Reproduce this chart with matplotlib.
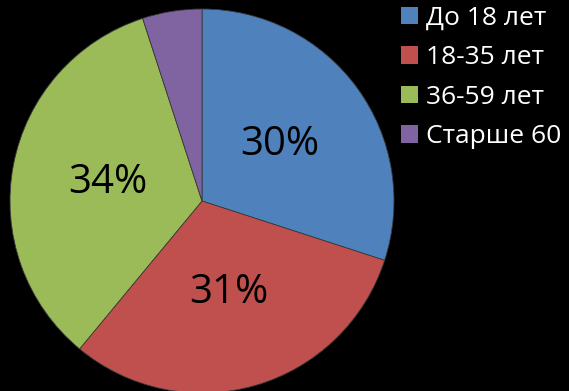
import matplotlib.pyplot as plt
from matplotlib.patches import Patch

labels = ["До 18 лет", "18-35 лет", "36-59 лет", "Старше 60"]
shares = [30, 31, 34, 5]
pct_labels = ["30%", "31%", "34%", ""]
colors = ["#4F81BD", "#C0504D", "#9BBB59", "#8064A2"]

plt.rcParams["font.family"] = ["Open Sans", "DejaVu Sans"]

fig = plt.figure(figsize=(5.69, 3.91), dpi=100, facecolor="black")
ax = fig.add_axes([10 / 569, -2 / 391, 384 / 569, 384 / 391])
ax.set_facecolor("black")

wedges, texts = ax.pie(
    shares, colors=colors, startangle=90, counterclock=False,
    labels=pct_labels, labeldistance=0.5,
    wedgeprops=dict(edgecolor="#3a3a3a", linewidth=0.6),
    textprops=dict(color="black", fontsize=29, ha="center", va="center"),
)
ax.set_xlim(-1, 1)
ax.set_ylim(-1, 1)
ax.set_aspect("equal")

handles = [Patch(facecolor=c, edgecolor="none") for c in colors]
leg = fig.legend(
    handles, labels, loc="upper left", bbox_to_anchor=(401 / 569, 0.985),
    frameon=False, fontsize=19, labelcolor="white",
    borderpad=0, borderaxespad=0,
    handlelength=0.65, handleheight=0.65, handletextpad=0.3, labelspacing=0.55,
)

fig.savefig("out.png", dpi=100, facecolor="black")
